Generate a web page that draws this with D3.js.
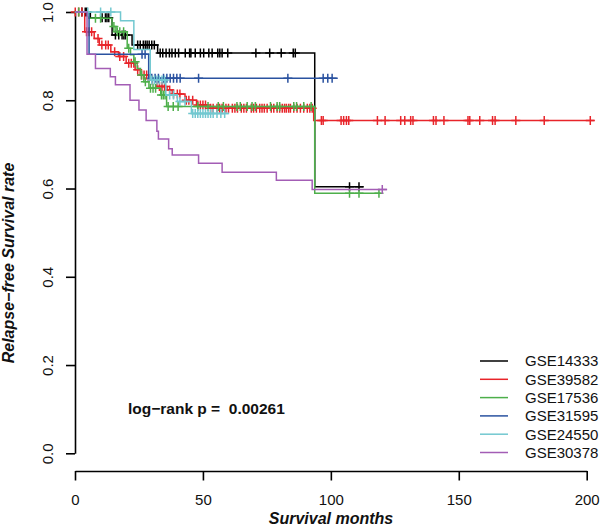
<!DOCTYPE html>
<html>
<head>
<meta charset="utf-8">
<script src="https://cdn.jsdelivr.net/npm/d3@7/dist/d3.min.js"></script>
<style>
  html, body { margin: 0; padding: 0; background: #fff; }
  svg { display: block; }
  text { font-family: "Liberation Sans", Arial, sans-serif; white-space: pre; }
</style>
</head>
<body>
<svg id="chart" width="600" height="527"></svg>
<script>
// ---------------- data ----------------
const seriesNames = ["GSE14333", "GSE39582", "GSE17536", "GSE31595", "GSE24550", "GSE30378"];
const seriesColors = ["#000000", "#E8242A", "#4DAF4A", "#2A52A0", "#72C8D0", "#A35DB5"];

// step functions: times at which survival drops, and survival after the drop
const gse14333Time = [0, 6, 14.5, 22.3, 32.3, 93.7];
const gse14333Surv = [1, 0.987, 0.948, 0.925, 0.907, 0.604];
const gse14333End = 112.8;
const gse14333Censor = [2.7, 4, 4.6, 10.6, 11.9, 12.5, 13.2, 15.8, 17.1, 18.4, 19.1, 19.7,
  24.5, 25.5, 26.7, 27.5, 28.2, 29, 30, 31, 33.3, 34.3, 35.6, 36.9, 37.9, 39.2, 40.5,
  43.1, 44.8, 45.3, 47, 49, 50.3, 52.3, 53.6, 55.8, 56.6, 57.5, 59.7, 70.7, 76.1, 80.6,
  85.3, 86.1, 107.3, 111];

const gse39582Time = [0, 3.8, 7.5, 9.5, 14, 17, 20, 23.5, 25.5, 29, 32, 36, 38, 43, 47.5, 52, 93.3];
const gse39582Surv = [1, 0.955, 0.94, 0.925, 0.91, 0.899, 0.884, 0.869, 0.857, 0.846, 0.831,
  0.823, 0.814, 0.80, 0.789, 0.782, 0.754];
const gse39582End = 203;
const gse39582Censor = [0.1, 1.4, 2.7, 4.5, 5.5, 6.5, 9, 10.5, 12, 13, 15.5, 17.5, 19, 21, 22,
  23, 24.5, 26, 27, 28, 30, 33, 34, 35, 37, 38.5, 40, 41, 43.5, 44.5, 46, 48, 49, 50, 51,
  53, 54, 55.5, 56.5, 57.5, 59, 60, 61.5, 62.5, 63.5, 65, 66, 67, 68.9, 69.8, 70.9, 72.2,
  73.1, 74, 75.1, 76.7, 77.7, 79, 80, 81, 81.9, 82.6, 83.5, 84.2, 85.5, 86.8, 88.1, 89.4,
  90.8, 91.8, 92.7, 96.3, 97, 104, 105, 106.1, 107, 118.2, 121.2, 127.3, 128.9, 131.2,
  132.1, 140.1, 141.1, 144.2, 153.6, 154.3, 158.2, 163.2, 164.2, 172.3, 183.4, 201.4];

const gse17536Time = [0, 5.5, 14.5, 16, 20.4, 21.7, 23, 24.3, 25.6, 26.9, 28.9, 33.5, 35.8, 93.7];
const gse17536Surv = [1, 0.986, 0.967, 0.955, 0.918, 0.903, 0.887, 0.872, 0.857, 0.842,
  0.827, 0.812, 0.786, 0.589];
const gse17536End = 119.5;
const gse17536Censor = [1.5, 8, 10, 15.2, 16.5, 17.5, 19, 21, 23.5, 26, 27.5, 29.5, 30.5,
  31.5, 33.8, 34.5, 35.2, 36.4, 38.4, 40.3, 48, 52, 56, 58, 63.3, 64.6, 67.3, 69.2, 70.5,
  76.4, 79, 80, 85.5, 86.6, 89.4, 92.3, 107.3, 111, 118.8];

const gse31595Time = [0, 5.5, 28.8];
const gse31595Surv = [1, 0.904, 0.85];
const gse31595End = 102.7;
const gse31595Censor = [26.2, 27.4, 30, 31.3, 32.6, 34.6, 35.9, 37.2, 38.5, 39.8, 41.1,
  48.3, 83.2, 97, 98.8, 100.5];

const gse24550Time = [0, 17.8, 23, 29.4, 35.5, 40, 45.5];
const gse24550Surv = [1, 0.98, 0.915, 0.846, 0.812, 0.797, 0.77];
const gse24550End = 60;
const gse24550Censor = [5, 10, 14, 30, 31, 32, 33, 34, 35, 37, 38.5, 41, 43, 46, 47, 48,
  49, 50, 51, 52, 53, 54, 55.5, 57, 58.5];

const gse30378Time = [0, 4.7, 8, 13.8, 15.8, 21.5, 25, 27.8, 32, 32.6, 36.6, 38, 48.3, 57.5, 78.7, 92.7];
const gse30378Surv = [1, 0.904, 0.872, 0.853, 0.835, 0.80, 0.778, 0.754, 0.73, 0.712, 0.69,
  0.676, 0.657, 0.637, 0.619, 0.598];
const gse30378End = 122;
const gse30378Censor = [120.1];

const xTicks = [0, 50, 100, 150, 200];
const yTicks = [0, 0.2, 0.4, 0.6, 0.8, 1.0];
const pValueLabel = "log\u2212rank p =  0.00261";
const xTitle = "Survival months";
const yTitle = "Relapse\u2212free Survival rate";

// ---------------- table built from arrays ----------------
const curves = [
  { t: gse14333Time, s: gse14333Surv, end: gse14333End, c: gse14333Censor },
  { t: gse39582Time, s: gse39582Surv, end: gse39582End, c: gse39582Censor },
  { t: gse17536Time, s: gse17536Surv, end: gse17536End, c: gse17536Censor },
  { t: gse31595Time, s: gse31595Surv, end: gse31595End, c: gse31595Censor },
  { t: gse24550Time, s: gse24550Surv, end: gse24550End, c: gse24550Censor },
  { t: gse30378Time, s: gse30378Surv, end: gse30378End, c: gse30378Censor }
].map((d, i) => ({ ...d, name: seriesNames[i], color: seriesColors[i] }));

// ---------------- drawing ----------------
const svg = d3.select("#chart");
const x = d3.scaleLinear().domain([0, 200]).range([75, 586.7]);
const y = d3.scaleLinear().domain([0, 1]).range([453.3, 12]);

const fontSans = '"Liberation Sans", Arial, sans-serif';

// y axis
const yAxis = d3.axisLeft(y).tickValues(yTicks).tickFormat(d3.format(".1f")).tickSize(9).tickSizeOuter(0);
const gy = svg.append("g").attr("transform", "translate(75,0)").call(yAxis);
gy.select(".domain").attr("stroke", "#000").attr("stroke-width", 1.6);
gy.selectAll(".tick line").attr("stroke", "#000").attr("stroke-width", 1.6);
gy.selectAll(".tick text")
  .attr("x", null).attr("dy", null)
  .attr("transform", "translate(-22,0) rotate(-90)")
  .attr("text-anchor", "middle")
  .attr("font-size", 15).attr("font-family", fontSans).attr("fill", "#111");

// x axis
const xAxis = d3.axisBottom(x).tickValues(xTicks).tickFormat(d3.format("d")).tickSize(9.5).tickSizeOuter(0);
const gx = svg.append("g").attr("transform", "translate(0,471)").call(xAxis);
gx.select(".domain").attr("stroke", "#000").attr("stroke-width", 1.6);
gx.selectAll(".tick line").attr("stroke", "#000").attr("stroke-width", 1.6);
gx.selectAll(".tick text")
  .attr("y", 34).attr("dy", null)
  .attr("font-size", 15).attr("font-family", fontSans).attr("fill", "#111");

// curves
const stepLine = d3.line().x(d => x(d[0])).y(d => y(d[1])).curve(d3.curveStepAfter);
const plot = svg.append("g");
curves.forEach(cv => {
  const pts = cv.t.map((t, i) => [t, cv.s[i]]);
  pts.push([cv.end, cv.s[cv.s.length - 1]]);
  plot.append("path")
    .attr("d", stepLine(pts))
    .attr("fill", "none")
    .attr("stroke", cv.color)
    .attr("stroke-width", 1.5);
  const survAt = t => cv.s[Math.max(0, d3.bisectRight(cv.t, t) - 1)];
  const m = 4.5;
  plot.append("g").selectAll("path")
    .data(cv.c)
    .join("path")
    .attr("d", t => {
      const cx = x(t), cy = y(survAt(t));
      return `M${cx - m},${cy}H${cx + m}M${cx},${cy - m}V${cy + m}`;
    })
    .attr("stroke", cv.color)
    .attr("stroke-width", 1.5)
    .attr("fill", "none");
});

// legend
const legend = svg.append("g");
curves.forEach((cv, i) => {
  const ly = 361 + i * 18.3;
  legend.append("line")
    .attr("x1", 480).attr("x2", 508).attr("y1", ly).attr("y2", ly)
    .attr("stroke", cv.color).attr("stroke-width", 1.5);
  legend.append("text")
    .attr("x", 525).attr("y", ly + 5.3)
    .attr("font-size", 15).attr("font-family", fontSans).attr("fill", "#111")
    .text(cv.name);
});

// p-value
svg.append("text")
  .attr("x", 128).attr("y", 413.5)
  .attr("xml:space", "preserve")
  .attr("font-size", 15.5).attr("font-weight", "bold").attr("font-family", fontSans)
  .attr("fill", "#111")
  .text(pValueLabel);

// axis titles
svg.append("text")
  .attr("x", 331).attr("y", 524)
  .attr("text-anchor", "middle")
  .attr("font-size", 16).attr("font-weight", "bold").attr("font-style", "italic")
  .attr("font-family", fontSans).attr("fill", "#111")
  .text(xTitle);

svg.append("text")
  .attr("transform", "translate(14,263) rotate(-90)")
  .attr("text-anchor", "middle")
  .attr("font-size", 16).attr("font-weight", "bold").attr("font-style", "italic")
  .attr("font-family", fontSans).attr("fill", "#111")
  .text(yTitle);
</script>
</body>
</html>
